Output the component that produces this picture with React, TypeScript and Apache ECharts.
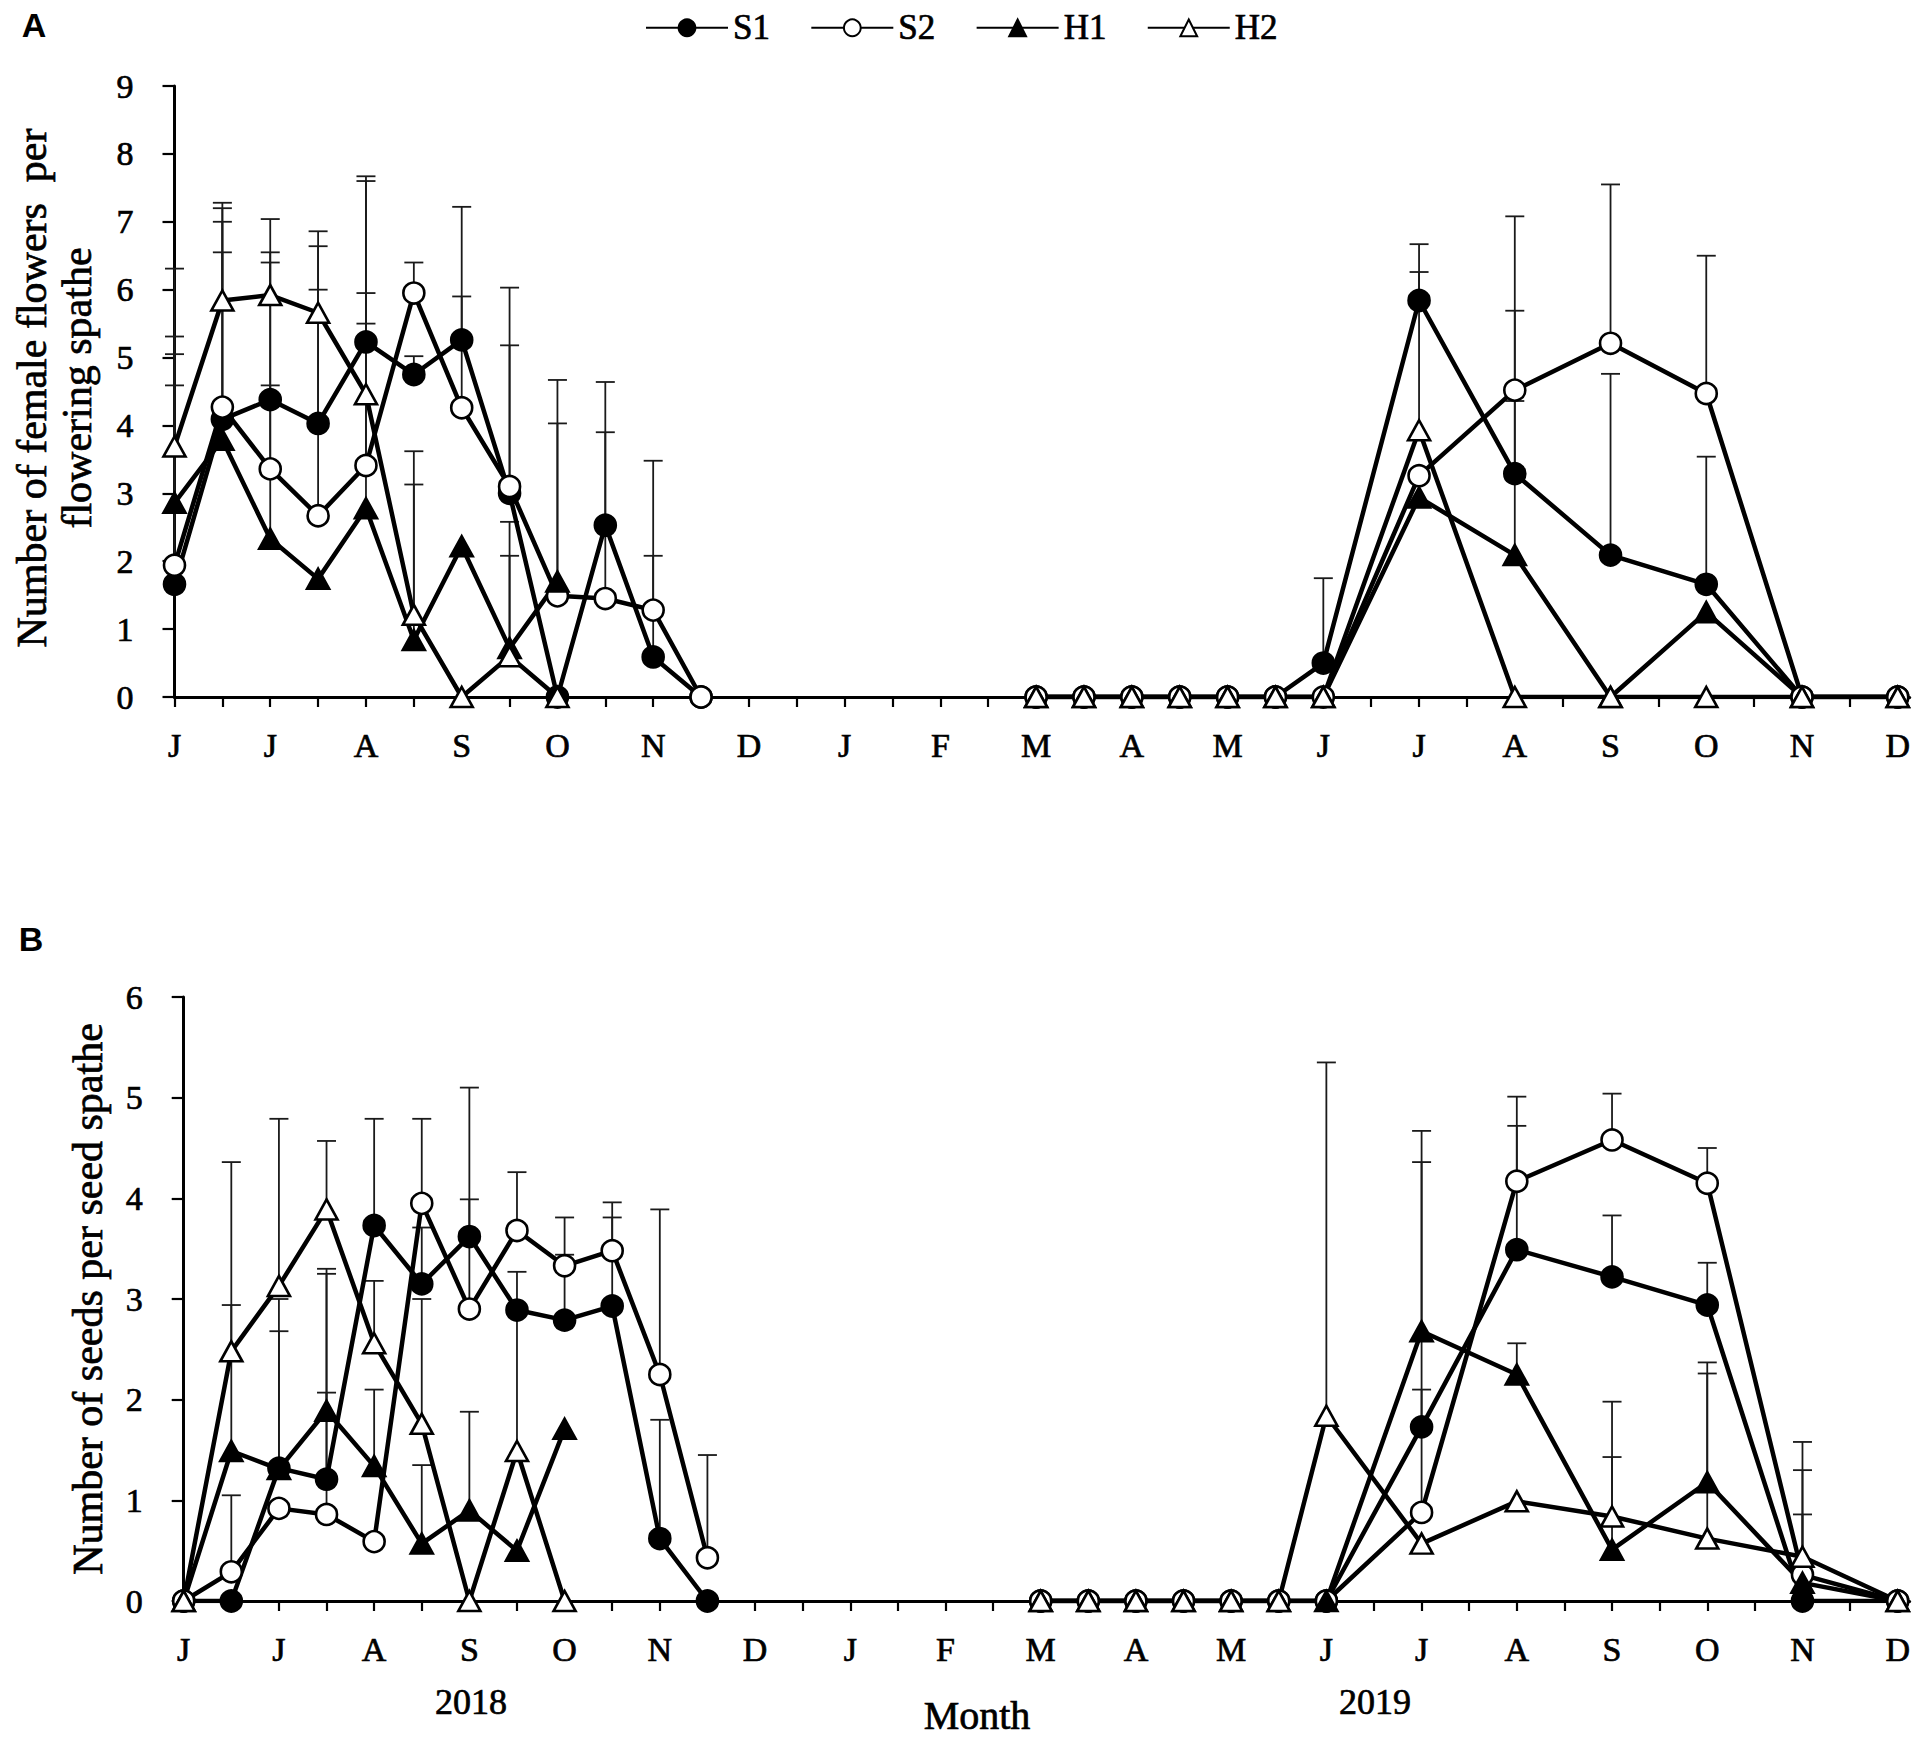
import React, { useEffect, useRef } from "react";
import * as echarts from "echarts";

// ---------- axis / category data ----------
// x positions are half-month steps: 0 = June 2018 ... 36 = December 2019
const MONTH_LETTERS = ["J", "J", "A", "S", "O", "N", "D", "J", "F", "M", "A", "M", "J", "J", "A", "S", "O", "N", "D"];
const X_TICKS = Array.from({ length: 37 }, (_, i) => i);
const X_LABEL_POS = Array.from({ length: 19 }, (_, i) => i * 2);
const X_2018 = [0, 1, 2, 3, 4, 5, 6, 7, 8, 9, 10, 11];
const X_2019 = [18, 19, 20, 21, 22, 23, 24, 26, 28, 30, 32, 34, 36];
const SERIES_NAMES = ["S1", "S2", "H1", "H2"];

// ---------- Panel A: female flowers per flowering spathe (means) ----------
const A_S1_2018 = [1.66, 4.09, 4.38, 4.03, 5.23, 4.75, 5.26, 3.0, 0, 2.53, 0.59, 0];
const A_S2_2018 = [1.94, 4.27, 3.36, 2.67, 3.41, 5.95, 4.26, 3.1, 1.49, 1.45, 1.28, 0];
const A_H1_2018 = [2.86, 3.79, 2.33, 1.74, 2.78, 0.84, 2.22, 0.72, 1.7, null, null, null];
const A_H2_2018 = [3.69, 5.84, 5.92, 5.66, 4.46, 1.21, 0, 0.6, 0, null, null, null];
const A_S1_2019 = [0, 0, 0, 0, 0, 0, 0.5, 5.84, 3.29, 2.09, 1.66, 0, 0];
const A_S2_2019 = [0, 0, 0, 0, 0, 0, 0, 3.26, 4.52, 5.21, 4.47, 0, 0];
const A_H1_2019 = [0, 0, 0, 0, 0, 0, 0, 2.94, 2.09, 0, 1.25, 0, 0];
const A_H2_2019 = [0, 0, 0, 0, 0, 0, 0, 3.93, 0, 0, 0, 0, 0];

// Panel A error-bar tops (mean + SD)
const A_S1_ERR_2018 = [5.31, 7.0, 6.55, 6.64, 7.67, 5.02, 7.22, 5.18, null, 4.64, 2.08, null];
const A_S2_ERR_2018 = [4.59, 7.2, 6.4, 6.0, 7.6, 6.4, 5.9, 6.03, 4.67, 3.9, 3.48, null];
const A_H1_ERR_2018 = [5.05, 6.55, 4.59, null, 5.5, 3.13, null, 2.58, 4.03, null, null, null];
const A_H2_ERR_2018 = [6.31, 7.28, 7.04, 6.86, 5.95, 3.62, null, 2.08, null, null, null, null];
const A_S1_ERR_2019 = [null, null, null, null, null, null, 1.75, 6.67, 5.69, 4.76, 3.54, null, null];
const A_S2_ERR_2019 = [null, null, null, null, null, null, null, null, 7.08, 7.55, 6.5, null, null];
const A_H1_ERR_2019 = [null, null, null, null, null, null, null, null, 4.36, null, null, null, null];
const A_H2_ERR_2019 = [null, null, null, null, null, null, null, 6.26, null, null, null, null, null];

// ---------- Panel B: seeds per seed spathe (means) ----------
const B_S1_2018 = [0, 0, 1.32, 1.21, 3.73, 3.15, 3.62, 2.89, 2.79, 2.93, 0.62, 0];
const B_S2_2018 = [0, 0.29, 0.92, 0.86, 0.59, 3.95, 2.9, 3.68, 3.33, 3.48, 2.25, 0.43];
const B_H1_2018 = [0, 1.49, 1.31, 1.89, 1.34, 0.57, 0.9, 0.5, 1.71, null, null, null];
const B_H2_2018 = [0, 2.48, 3.13, 3.89, 2.56, 1.76, 0, 1.49, 0, null, null, null];
const B_S1_2019 = [0, 0, 0, 0, 0, 0, 0, 1.73, 3.49, 3.22, 2.94, 0, 0];
const B_S2_2019 = [0, 0, 0, 0, 0, 0, 0, 0.88, 4.17, 4.58, 4.15, 0.26, 0];
const B_H1_2019 = [0, 0, 0, 0, 0, 0, 0, 2.68, 2.25, 0.51, 1.18, 0.18, 0];
const B_H2_2019 = [0, 0, 0, 0, 0, 0, 1.84, 0.57, 0.99, 0.84, 0.62, 0.44, 0];

// Panel B error-bar tops
const B_S1_ERR_2018 = [null, null, 2.68, 3.25, 4.79, 3.71, 5.1, null, 3.44, 3.81, 1.8, null];
const B_S2_ERR_2018 = [null, 1.05, null, 2.07, null, 4.79, 3.99, 4.26, 3.81, 3.96, 3.89, 1.45];
const B_H1_ERR_2018 = [null, 2.94, 3.0, 3.3, 2.1, 1.35, 1.88, null, null, null, null, null];
const B_H2_ERR_2018 = [null, 4.36, 4.79, 4.57, 3.18, 3.0, null, 3.27, null, null, null, null];
const B_S1_ERR_2019 = [null, null, null, null, null, null, null, 4.36, 4.72, 3.83, 3.36, null, null];
const B_S2_ERR_2019 = [null, null, null, null, null, null, null, 2.1, 5.01, 5.04, 4.5, 1.3, null];
const B_H1_ERR_2019 = [null, null, null, null, null, null, null, 4.67, 2.56, 1.98, 2.37, 0.86, null];
const B_H2_ERR_2019 = [null, null, null, null, null, null, 5.35, null, null, 1.43, 2.26, 1.58, null];

// ---------- text ----------
const TITLE_A = "Number of female flowers  per\nflowering spathe";
const TITLE_B = "Number of seeds per seed spathe";
const X_TITLE = "Month";
const YEAR_LABELS = ["2018", "2019"];

const SERIF = '"Liberation Serif", "Times New Roman", serif';
const SANS = '"Liberation Sans", Arial, sans-serif';
const INK = { textBorderColor: "#000", textBorderWidth: 0.7 };

type V = number | null;

function linePoints(v18: V[], v19: V[]) {
  const out: any[] = [];
  X_2018.forEach((x, i) => out.push([x, v18[i] == null ? "-" : v18[i]]));
  out.push([14, "-"]);
  X_2019.forEach((x, i) => out.push([x, v19[i] == null ? "-" : v19[i]]));
  return out;
}

function errPoints(m18: V[], e18: V[], m19: V[], e19: V[]) {
  const out: number[][] = [];
  X_2018.forEach((x, i) => {
    if (e18[i] != null && m18[i] != null) out.push([x, m18[i] as number, e18[i] as number]);
  });
  X_2019.forEach((x, i) => {
    if (e19[i] != null && m19[i] != null) out.push([x, m19[i] as number, e19[i] as number]);
  });
  return out;
}

const STYLES: Record<string, { symbol: string; size: any; fill: string }> = {
  S1: { symbol: "circle", size: 21, fill: "#000" },
  S2: { symbol: "circle", size: 21, fill: "#fff" },
  H1: { symbol: "triangle", size: [22, 20], fill: "#000" },
  H2: { symbol: "triangle", size: [22, 20], fill: "#fff" },
};

function lineSeries(name: string, gridIdx: number, data: any[]) {
  const st = STYLES[name];
  return {
    type: "line",
    name,
    xAxisIndex: gridIdx,
    yAxisIndex: gridIdx,
    data,
    symbol: st.symbol,
    symbolSize: st.size,
    showAllSymbol: true,
    connectNulls: false,
    lineStyle: { color: "#000", width: 4.5 },
    itemStyle: { color: st.fill, borderColor: "#000", borderWidth: 2.6 },
    emphasis: { disabled: true },
    z: 3,
  };
}

function errSeries(gridIdx: number, data: number[][]) {
  return {
    type: "custom",
    name: "err" + gridIdx,
    xAxisIndex: gridIdx,
    yAxisIndex: gridIdx,
    data,
    encode: { x: 0, y: [1, 2] },
    z: 1,
    silent: true,
    renderItem: (params: any, api: any) => {
      const x = api.value(0);
      const p0 = api.coord([x, api.value(1)]);
      const p1 = api.coord([x, api.value(2)]);
      const w = 9.5;
      const style = { stroke: "#1a1a1a", lineWidth: 1.8 };
      return {
        type: "group",
        children: [
          { type: "line", shape: { x1: p0[0], y1: p0[1], x2: p1[0], y2: p1[1] }, style },
          { type: "line", shape: { x1: p1[0] - w, y1: p1[1], x2: p1[0] + w, y2: p1[1] }, style },
        ],
      };
    },
  };
}

function xAxis(gridIdx: number) {
  return {
    type: "value",
    gridIndex: gridIdx,
    min: 0,
    max: 36.25,
    axisLine: { show: true, onZero: false, lineStyle: { color: "#000", width: 3 } },
    axisTick: { show: true, inside: false, length: 10, customValues: X_TICKS, lineStyle: { color: "#000", width: 2.2 } },
    axisLabel: {
      show: true,
      customValues: X_LABEL_POS,
      margin: 31,
      formatter: (v: number) => MONTH_LETTERS[Math.round(v / 2)] ?? "",
      fontFamily: SERIF,
      fontSize: 34,
      color: "#000",
      ...INK,
    },
    splitLine: { show: false },
  };
}

function yAxis(gridIdx: number, max: number) {
  return {
    type: "value",
    gridIndex: gridIdx,
    min: 0,
    max,
    interval: 1,
    axisLine: { show: true, lineStyle: { color: "#000", width: 3 } },
    axisTick: { show: true, inside: false, length: 12, lineStyle: { color: "#000", width: 2.2 } },
    axisLabel: { margin: 41, fontFamily: SERIF, fontSize: 34, color: "#000", ...INK },
    splitLine: { show: false },
  };
}

export default function App() {
  const ref = useRef<HTMLDivElement>(null);

  useEffect(() => {
    if (!ref.current) return;
    const chart = echarts.init(ref.current, undefined, { renderer: "svg" });

    const aMeans = [
      [A_S1_2018, A_S1_2019],
      [A_S2_2018, A_S2_2019],
      [A_H1_2018, A_H1_2019],
      [A_H2_2018, A_H2_2019],
    ];
    const aErr = [
      [A_S1_ERR_2018, A_S1_ERR_2019],
      [A_S2_ERR_2018, A_S2_ERR_2019],
      [A_H1_ERR_2018, A_H1_ERR_2019],
      [A_H2_ERR_2018, A_H2_ERR_2019],
    ];
    const bMeans = [
      [B_S1_2018, B_S1_2019],
      [B_S2_2018, B_S2_2019],
      [B_H1_2018, B_H1_2019],
      [B_H2_2018, B_H2_2019],
    ];
    const bErr = [
      [B_S1_ERR_2018, B_S1_ERR_2019],
      [B_S2_ERR_2018, B_S2_ERR_2019],
      [B_H1_ERR_2018, B_H1_ERR_2019],
      [B_H2_ERR_2018, B_H2_ERR_2019],
    ];

    let errA: number[][] = [];
    let errB: number[][] = [];
    SERIES_NAMES.forEach((_, k) => {
      errA = errA.concat(errPoints(aMeans[k][0], aErr[k][0], aMeans[k][1], aErr[k][1]));
      errB = errB.concat(errPoints(bMeans[k][0], bErr[k][0], bMeans[k][1], bErr[k][1]));
    });

    const series: any[] = [errSeries(0, errA), errSeries(1, errB)];
    SERIES_NAMES.forEach((name, k) => {
      series.push(lineSeries(name, 0, linePoints(aMeans[k][0], aMeans[k][1])));
    });
    SERIES_NAMES.forEach((name, k) => {
      series.push(lineSeries(name, 1, linePoints(bMeans[k][0], bMeans[k][1])));
    });

    const txt = (text: string, x: number, y: number, font: string, extra: any = {}) => ({
      type: "text",
      x,
      y,
      silent: true,
      ...extra,
      style: {
        text,
        font,
        fill: "#000",
        stroke: "#000",
        lineWidth: 0.7,
        textAlign: "center",
        textVerticalAlign: "middle",
        align: "center",
        verticalAlign: "middle",
        ...(extra.style || {}),
      },
    });

    chart.setOption({
      animation: false,
      backgroundColor: "#fff",
      legend: {
        data: SERIES_NAMES,
        left: 640,
        top: 5,
        itemWidth: 82,
        itemHeight: 21,
        itemGap: 40,
        selectedMode: false,
        textStyle: { fontFamily: SERIF, fontSize: 35, color: "#000", ...INK },
      },
      grid: [
        { left: 174.5, top: 86, width: 1735.2, height: 611, containLabel: false },
        { left: 183.7, top: 997, width: 1725.9, height: 604, containLabel: false },
      ],
      xAxis: [xAxis(0), xAxis(1)],
      yAxis: [yAxis(0, 9), yAxis(1, 6)],
      series,
      graphic: [
        txt("A", 34, 25, `bold 34px ${SANS}`, { style: { lineWidth: 0 } }),
        txt("B", 31, 939, `bold 34px ${SANS}`, { style: { lineWidth: 0 } }),
        txt(TITLE_A, 54, 388, `42px ${SERIF}`, { rotation: Math.PI / 2, style: { lineHeight: 45 } }),
        txt(TITLE_B, 88, 1299, `42px ${SERIF}`, { rotation: Math.PI / 2 }),
        txt(YEAR_LABELS[0], 471, 1702, `36px ${SERIF}`),
        txt(YEAR_LABELS[1], 1375, 1702, `36px ${SERIF}`),
        txt(X_TITLE, 977, 1715, `40px ${SERIF}`),
      ],
    });

    return () => chart.dispose();
  }, []);

  return (
    <div
      ref={ref}
      style={{ position: "absolute", left: 0, top: 0, width: 1931, height: 1746, background: "#fff" }}
    />
  );
}
